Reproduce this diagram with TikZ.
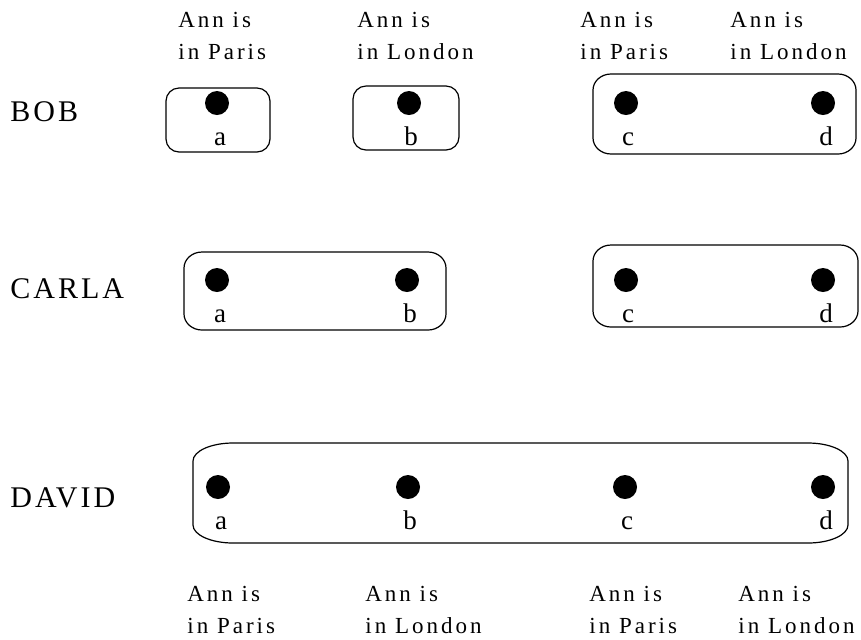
\documentclass[tikz,border=0pt]{standalone}
\usepackage{fontspec}
\setmainfont{Liberation Serif}
\newfontfamily\factfont[LetterSpace=13]{Liberation Serif}
\newfontfamily\agentfont[LetterSpace=10]{Liberation Serif}

\tikzset{
  world/.style={circle, fill=black, inner sep=0pt, minimum size=12pt},
  wname/.style={anchor=base, inner sep=0pt, font=\fontsize{13.5}{16}\selectfont},
  agent/.style={anchor=base west, inner sep=0pt, font=\agentfont\fontsize{15}{18}\selectfont},
  fact/.style={anchor=north west, inner sep=0pt, align=left, font=\factfont\fontsize{11.5}{16}\selectfont},
  cell/.style={line width=0.6pt}
}

% cell of worlds: x1 y1 x2 y2 and corner radii rx ry
\newcommand{\cellbox}[6]{%
  \draw[cell] ({#1+#5},#2) -- ({#3-#5},#2)
    .. controls ({#3-0.45*#5},#2) and (#3,{#2+0.45*#6}) .. (#3,{#2+#6})
    -- (#3,{#4-#6})
    .. controls (#3,{#4-0.45*#6}) and ({#3-0.45*#5},#4) .. ({#3-#5},#4)
    -- ({#1+#5},#4)
    .. controls ({#1+0.45*#5},#4) and (#1,{#4-0.45*#6}) .. (#1,{#4-#6})
    -- (#1,{#2+#6})
    .. controls (#1,{#2+0.45*#6}) and ({#1+0.45*#5},#2) .. ({#1+#5},#2) -- cycle;}

\begin{document}
\begin{tikzpicture}[x=0.5pt,y=-0.5pt]
\useasboundingbox (0,0) rectangle (861,639);

% Facts above the top row
\node[fact] (topA) at (178,12) {Ann is\\in Paris};
\node[fact] (topB) at (357,12) {Ann is\\in London};
\node[fact] (topC) at (580,12) {Ann is\\in Paris};
\node[fact] (topD) at (730,12) {Ann is\\in London};

% Bob
\node[agent] (bob) at (10,121) {BOB};
\cellbox{166}{88}{270}{152}{13}{13}
\cellbox{353}{86}{459}{150}{13}{13}
\cellbox{593}{74}{856}{154}{18}{16}
\node[world] (bobA) at (217,103) {};
\node[world] (bobB) at (409,103) {};
\node[world] (bobC) at (626,103) {};
\node[world] (bobD) at (823,103) {};
\node[wname] (bobAn) at (220,145) {a};
\node[wname] (bobBn) at (411,145) {b};
\node[wname] (bobCn) at (628,145) {c};
\node[wname] (bobDn) at (826,145) {d};

% Carla
\node[agent] (carla) at (10,298) {CARLA};
\cellbox{184}{252}{446}{330}{18}{16}
\cellbox{593}{245}{858}{327}{18}{16}
\node[world] (carlaA) at (217,280) {};
\node[world] (carlaB) at (407,280) {};
\node[world] (carlaC) at (626,280) {};
\node[world] (carlaD) at (823,280) {};
\node[wname] (carlaAn) at (220,322) {a};
\node[wname] (carlaBn) at (410,322) {b};
\node[wname] (carlaCn) at (628,322) {c};
\node[wname] (carlaDn) at (826,322) {d};

% David
\node[agent] (david) at (10,507) {DAVID};
\cellbox{193}{443}{848}{543}{40}{18}
\node[world] (davidA) at (218,487) {};
\node[world] (davidB) at (408,487) {};
\node[world] (davidC) at (625,487) {};
\node[world] (davidD) at (823,487) {};
\node[wname] (davidAn) at (221,529) {a};
\node[wname] (davidBn) at (410,529) {b};
\node[wname] (davidCn) at (627,529) {c};
\node[wname] (davidDn) at (826,529) {d};

% Facts below the bottom row
\node[fact] (botA) at (187,586) {Ann is\\in Paris};
\node[fact] (botB) at (365,586) {Ann is\\in London};
\node[fact] (botC) at (589,586) {Ann is\\in Paris};
\node[fact] (botD) at (738,586) {Ann is\\in London};
\end{tikzpicture}
\end{document}
